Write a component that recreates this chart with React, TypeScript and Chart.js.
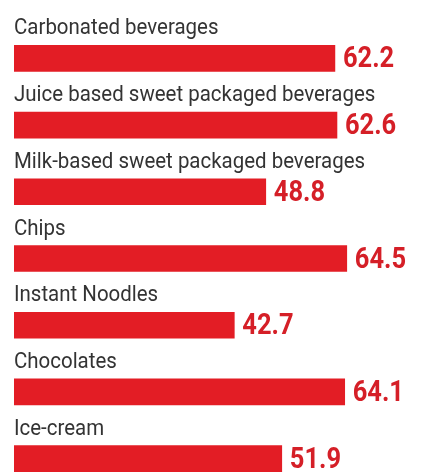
import React, { useEffect, useRef } from "react";
import { Chart, registerables } from "chart.js";

Chart.register(...registerables);

// data
const categories = [
  "Carbonated beverages",
  "Juice based sweet packaged beverages",
  "Milk-based sweet packaged beverages",
  "Chips",
  "Instant Noodles",
  "Chocolates",
  "Ice-cream",
];
const values = [62.2, 62.6, 48.8, 64.5, 42.7, 64.1, 51.9];
const valueLabels = ["62.2", "62.6", "48.8", "64.5", "42.7", "64.1", "51.9"];

const BAR_RED = "#e31d25";
const VALUE_RED = "#d51f27";
const LABEL_GREY = "#333333";

// draws the category name above each bar and the value to its right
const barTextPlugin = {
  id: "barText",
  afterDatasetsDraw(chart: any) {
    const ctx = chart.ctx;
    const meta = chart.getDatasetMeta(0);
    const left = chart.chartArea.left;
    meta.data.forEach((bar: any, i: number) => {
      const top = bar.y - bar.height / 2;

      ctx.save();
      ctx.fillStyle = LABEL_GREY;
      ctx.font = "22px Roboto";
      ctx.textBaseline = "alphabetic";
      ctx.textAlign = "left";
      ctx.translate(left, top - 11);
      ctx.scale(0.93, 1);
      ctx.fillText(categories[i], 0, 0);
      ctx.restore();

      ctx.save();
      ctx.fillStyle = VALUE_RED;
      ctx.font = "bold 30px Roboto";
      ctx.textBaseline = "alphabetic";
      ctx.textAlign = "left";
      ctx.translate(bar.x + 8, bar.y + 9);
      ctx.scale(0.85, 1);
      ctx.fillText(valueLabels[i], 0, 0);
      ctx.restore();
    });
  },
};

const FoodChart: React.FC = () => {
  const chartRef = useRef<HTMLCanvasElement>(null);

  useEffect(() => {
    const canvas = chartRef.current;
    if (!canvas) return;
    Chart.getChart(canvas)?.destroy();

    const chart = new Chart(canvas, {
      type: "bar",
      data: {
        labels: categories,
        datasets: [
          {
            data: values,
            backgroundColor: BAR_RED,
            borderWidth: 0,
            barThickness: 26,
          },
        ],
      },
      options: {
        indexAxis: "y",
        responsive: true,
        maintainAspectRatio: false,
        animation: false,
        layout: { padding: { left: 14, right: 3, top: 25, bottom: 8 } },
        scales: {
          x: { display: false, min: 0, max: 78.5 },
          y: { display: false },
        },
        plugins: {
          legend: { display: false },
          tooltip: { enabled: false },
        },
      },
      plugins: [barTextPlugin],
    });

    return () => {
      chart.destroy();
    };
  }, []);

  return (
    <div
      style={{
        position: "fixed",
        top: 0,
        left: 0,
        width: 422,
        height: 472,
        overflow: "hidden",
        background: "#ffffff",
      }}
    >
      <div style={{ position: "relative", width: 422, height: 500 }}>
        <canvas ref={chartRef}></canvas>
      </div>
    </div>
  );
};

export default function App() {
  return <FoodChart />;
}
